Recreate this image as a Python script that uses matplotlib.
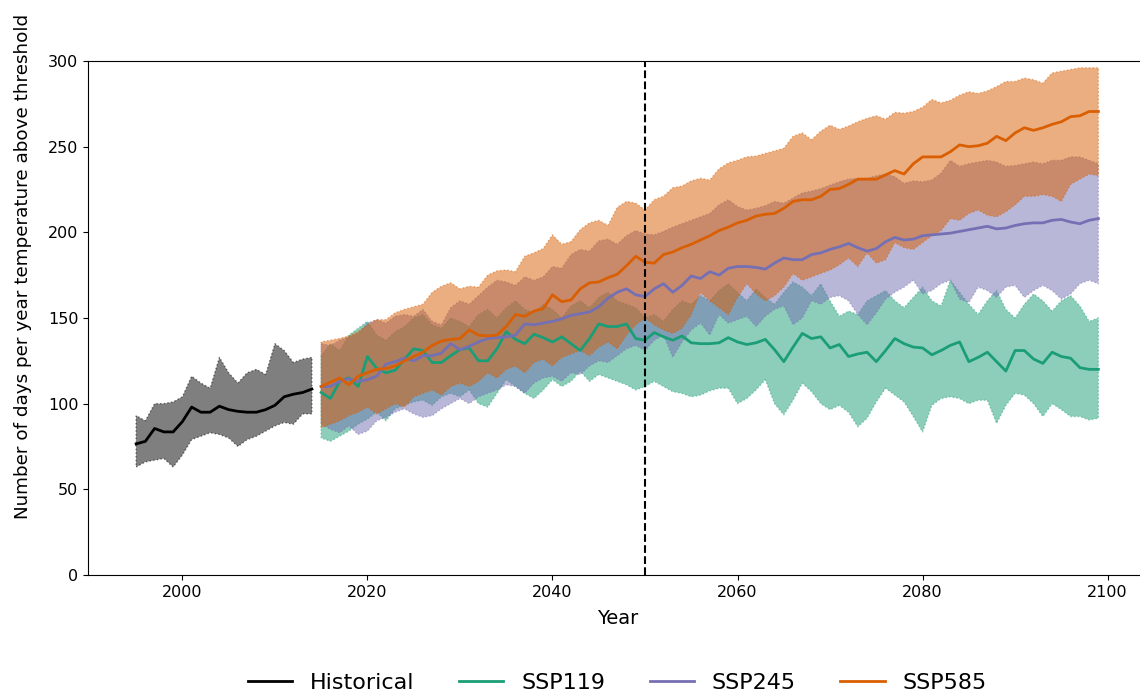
import numpy as np
import matplotlib

matplotlib.use("Agg")
import matplotlib.pyplot as plt

# historical ensemble (1995-2014)
hist_years = np.arange(1995, 2015)
hist_mean = [76.5, 78, 85.5, 83.5, 83.5, 89.5, 98, 95, 95, 98.5,
             96.5, 95.5, 95, 95, 96.5, 99, 104, 105.5, 106.5, 108.5]
hist_low = [63, 66, 67, 68, 63, 70, 79, 81, 83, 82,
            80, 75, 79, 81, 84, 87, 89, 88, 94, 94]
hist_high = [93, 90, 100, 100, 101, 104, 116, 112, 109, 127,
             118, 112, 118, 120, 117, 135, 131, 124, 126, 127]

# scenario projections (2015-2099)
ssp_years = np.arange(2015, 2100)

ssp119_mean = [106.5, 103, 113, 115, 110, 127.5, 120.5, 118, 119.5, 126,
               132, 131, 124, 124, 128, 131.5, 132.5, 125, 125, 132,
               142, 137.5, 135, 140.5, 138.5, 136, 139, 135, 131, 138,
               146.5, 145, 145, 146.5, 138, 137, 141.5, 139, 137, 139.5,
               135.5, 135, 135, 135.5, 138.5, 136, 134.5, 135.5, 137.5, 131.5,
               124.5, 133, 141, 138, 139, 132.5, 134.5, 127.5, 129, 130,
               124.5, 131, 138, 135, 133, 132.5, 128.5, 131, 134, 136,
               124.5, 127, 130, 124.5, 119, 131, 131, 126, 123.5, 130,
               127.5, 126.5, 121, 120, 120]
ssp119_low = [80, 78, 81, 84, 88, 91, 95, 90, 97, 99,
              101, 102, 99, 104, 106, 104, 108, 100, 98, 106,
              114, 110, 106, 103, 108, 114, 110, 113, 119, 113,
              117, 115, 113, 111, 108, 110, 113, 110, 107, 106,
              104, 105, 107.5, 109, 109, 100, 103, 108, 114, 100,
              93.5, 102, 112, 107, 100, 96.5, 99, 95, 86.5, 91.5,
              101, 109, 105, 101, 92.5, 83.5, 99, 103, 104, 103,
              100, 102, 102, 88.5, 99, 106, 105, 100, 92.5, 100,
              96.5, 92.5, 92.5, 90.5, 91.5]
ssp119_high = [128, 135, 131, 140, 144, 148, 140, 137, 142, 145,
               150, 152, 146, 144, 150, 148, 145, 152, 155, 150,
               156, 160, 155, 153, 158, 155, 150, 157, 160, 156,
               162, 165, 160, 158, 156, 150, 152, 148, 155, 160,
               158, 163, 160, 166, 170, 165, 160, 167, 162, 158,
               165, 171, 168, 163, 170, 160, 151, 154, 152, 160,
               163, 166, 160, 156, 162, 168, 160, 157, 172, 165,
               158, 152, 160, 166, 155, 150, 158, 164, 160, 154,
               160, 163, 157, 148, 150]

ssp245_mean = [110, 110, 113, 114.5, 113, 114, 116, 123, 124.5, 126.5,
               125, 128, 128, 129.5, 135, 131.5, 133.5, 136, 138, 138.5,
               139, 140, 146.5, 146, 147, 148, 149.5, 151.5, 152.5, 153.5,
               156.5, 161.5, 165, 167, 163.5, 162.5, 167, 170, 165, 169,
               174.5, 173, 177, 175, 179, 180, 180, 179.5, 178.5, 182,
               185, 184, 184, 187, 188, 190, 191.5, 193.5, 191, 189,
               190.5, 194.5, 197, 195.5, 196, 198, 198.5, 199, 199.5, 200.5,
               201.5, 202.5, 203.5, 202, 202.5, 204, 205, 205.5, 205.5, 207,
               207.5, 206, 205, 207, 208]
ssp245_low = [88, 85, 83, 87, 82, 84, 90, 92, 95, 97,
              94, 92, 93, 97, 100, 103, 100, 104, 106, 108,
              111, 110, 106, 112, 115, 116, 113, 118, 117, 122,
              125, 124, 128, 132, 134, 131, 137, 140, 127, 136,
              143, 147, 140, 152, 147, 149, 151, 145, 151, 155,
              157, 146, 150, 160, 158, 162, 163, 160, 152, 146,
              153, 161, 165, 168, 172, 164, 166, 170, 172, 161,
              159, 168, 166, 162, 168, 169, 162, 166, 169, 166,
              161, 164, 170, 172, 170]
ssp245_high = [135, 134, 137, 139, 141, 147, 149, 147, 151, 152,
               151, 155, 148, 146, 156, 160, 158, 163, 168, 172,
               171, 169, 174, 172, 174, 180, 179, 187, 190, 189,
               195, 196, 193, 198, 201, 199, 198.5, 200.5, 203, 205,
               207, 209, 211, 216, 219, 215, 213, 214, 215.5, 218,
               217, 220, 223, 224, 225.5, 227.5, 229.5, 231, 231.5, 231.5,
               233, 234, 232.5, 228.5, 230, 229.5, 230.5, 234.5, 242, 238.5,
               240, 241, 242, 241, 238.5, 239, 240, 241, 240, 242,
               242, 244, 244, 242, 240]

ssp585_mean = [110, 112.5, 115, 111, 116, 118, 120, 120.5, 122, 125,
               127.5, 130, 134, 136.5, 137.5, 138, 143, 140, 139.5, 140,
               145, 152, 151, 154, 155.5, 163.5, 159.5, 160.5, 167, 170.5,
               171, 173.5, 175.5, 180.5, 186, 182.5, 182, 187, 188.5, 191,
               193, 195.5, 198, 201, 203, 205.5, 207, 209.5, 210.5, 211,
               214, 218, 219, 219, 221, 225, 225.5, 228, 231, 231,
               231, 233.5, 236, 234, 240, 244, 244, 244, 247, 251,
               250, 250.5, 252, 256, 253.5, 258, 261, 259.5, 261, 263,
               264.5, 267.5, 268, 270.5, 270.5]
ssp585_low = [86, 88, 90, 93, 95, 98, 94, 97, 100, 98,
              104, 106, 108, 105, 110, 112, 110, 113, 118, 115,
              120, 122, 118, 124, 126, 122, 127, 129, 131, 128,
              133, 136, 132, 140, 146, 150, 146, 143, 141, 144,
              152, 165, 160, 156, 152, 162, 170, 164, 160, 163,
              168, 176, 172, 174, 176, 178, 181, 185, 180, 188,
              182, 184, 194, 191, 190, 194, 198, 201, 208, 207,
              211, 213, 210, 209, 212, 216, 221, 221, 222, 221,
              218, 228, 231, 234, 233]
ssp585_high = [136, 137, 138, 139.5, 142, 146, 149, 149, 153, 155,
               156.5, 158, 165, 168.5, 170.5, 167, 168.5, 168, 175, 177.5,
               178, 177, 186, 188, 190.5, 198.5, 193, 194.5, 201.5, 205.5,
               207, 204, 214.5, 218, 217, 213, 219, 221, 226, 227,
               230, 231.5, 230.5, 237, 240.5, 242, 244, 244.5, 246, 247.5,
               249, 256, 258, 254, 259, 262.5, 260, 262, 264.5, 266.5,
               268, 266, 270, 269.5, 270.5, 273, 277.5, 275.5, 277, 280,
               282, 281, 282.5, 285, 288, 288, 290, 289, 287, 293,
               294, 295, 296, 296, 296]

scenarios = [
    ("SSP119", ssp119_low, ssp119_mean, ssp119_high, "#1b9e77"),
    ("SSP245", ssp245_low, ssp245_mean, ssp245_high, "#7570b3"),
    ("SSP585", ssp585_low, ssp585_mean, ssp585_high, "#d95f02"),
]

fig = plt.figure(figsize=(11.4, 6.95), dpi=100)
ax = fig.add_axes([0.0772, 0.1727, 0.9285, 0.7396])

ax.fill_between(hist_years, hist_low, hist_high, color="k", alpha=0.5, linestyle=":")
for name, low, mean, high, color in scenarios:
    ax.fill_between(ssp_years, low, high, color=color, alpha=0.5, linestyle=":")

ax.plot(hist_years, hist_mean, color="k", lw=2, label="Historical")
for name, low, mean, high, color in scenarios:
    ax.plot(ssp_years, mean, color=color, lw=2, label=name)

ax.axvline(2050, color="k", ls="--", lw=1.5)
ax.set_ylim(0, 300)
ax.spines["right"].set_visible(False)
ax.set_xlabel("Year", fontsize=14, labelpad=7)
ax.set_ylabel("Number of days per year temperature above threshold", fontsize=13.2)
ax.yaxis.set_label_coords(-0.053, 0.6)
ax.tick_params(labelsize=11.5)
ax.legend(loc="center", bbox_to_anchor=(0.5, -0.21), ncol=4, frameon=False, fontsize=16)

fig.savefig("out.png", dpi=100)
